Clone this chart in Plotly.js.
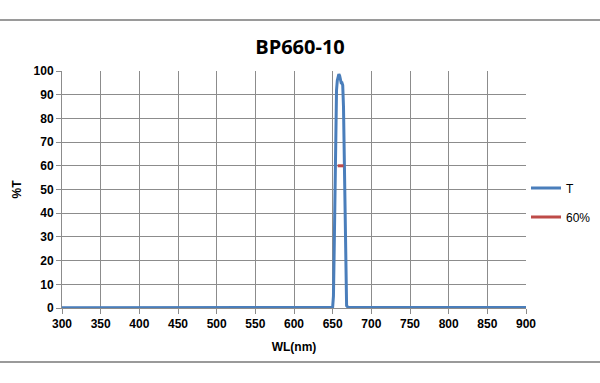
<!DOCTYPE html>
<html>
<head>
<meta charset="utf-8">
<script src="https://cdn.plot.ly/plotly-3.0.1.min.js"></script>
<style>html,body{margin:0;padding:0;background:#fff}#chart{width:600px;height:383px}</style>
</head>
<body>
<div id="chart"></div>
<script>
// Transmission curve T (%)
const wl = [300, 350, 400, 450, 500, 550, 600, 640, 648, 650, 651, 652, 653, 654, 655, 656, 657, 658, 659, 660, 661, 662, 663, 664, 665, 666, 667, 668, 670, 700, 750, 790, 800, 820, 850, 870, 900];
const T  = [0.1, 0.1, 0.1, 0.1, 0.1, 0.1, 0.1, 0.1, 0.2, 0.5, 5, 25, 55, 80, 92, 96, 98.5, 98.7, 98, 96, 95, 95, 94, 85, 60, 30, 8, 1, 0.2, 0.2, 0.2, 0.2, 0.5, 0.5, 0.4, 0.2, 0.2];
// 60% marker
const wl60 = [656.5, 664];
const v60 = [60, 60];
const xTicks = [300, 350, 400, 450, 500, 550, 600, 650, 700, 750, 800, 850, 900];
const yTicks = [0, 10, 20, 30, 40, 50, 60, 70, 80, 90, 100];

const tickFont = {family: 'Liberation Sans, Arial, sans-serif', size: 12, color: '#000', weight: 'bold'};

const data = [
  {x: wl, y: T, type: 'scatter', mode: 'lines', name: 'T',
   line: {color: '#4A7EBB', width: 3}, legend: 'legend'},
  {x: wl60, y: v60, type: 'scatter', mode: 'lines', name: '60%',
   line: {color: '#BE4B48', width: 3}, legend: 'legend2'}
];

const layout = {
  width: 600, height: 383,
  margin: {l: 62, r: 74, t: 71, b: 75, autoexpand: false},
  paper_bgcolor: '#fff', plot_bgcolor: '#fff',
  title: {text: 'BP660-10', x: 0.5, xanchor: 'center', y: 0.876, yanchor: 'middle',
          font: {family: 'Open Sans, Liberation Sans, sans-serif', size: 20, color: '#000', weight: 'bold'}},
  xaxis: {range: [300, 900], tickvals: xTicks, ticktext: xTicks.map(String),
          showgrid: true, gridcolor: '#8c8c8c', gridwidth: 1,
          showline: true, linecolor: '#8c8c8c', linewidth: 1,
          ticks: 'outside', ticklen: 5, tickcolor: '#8c8c8c',
          tickfont: tickFont, zeroline: false, automargin: false,
          title: {text: 'WL(nm)', standoff: 12, font: {family: 'Liberation Sans, Arial, sans-serif', size: 12, color: '#000', weight: 'bold'}}},
  yaxis: {range: [0, 100], tickvals: yTicks, ticktext: yTicks.map(String),
          showgrid: true, gridcolor: '#8c8c8c', gridwidth: 1,
          showline: true, linecolor: '#8c8c8c', linewidth: 1,
          ticks: 'outside', ticklen: 5, tickcolor: '#8c8c8c',
          tickfont: tickFont, zeroline: false, automargin: false,
          title: {text: '%T', standoff: 9, font: {family: 'Liberation Sans, Arial, sans-serif', size: 12, color: '#000', weight: 'bold'}}},
  showlegend: true,
  legend: {x: 1.0, y: 0.506, xanchor: 'left', yanchor: 'middle', bgcolor: 'rgba(0,0,0,0)',
           font: {family: 'Liberation Sans, Arial, sans-serif', size: 12, color: '#000'}},
  legend2: {x: 1.0, y: 0.384, xanchor: 'left', yanchor: 'middle', bgcolor: 'rgba(0,0,0,0)',
           font: {family: 'Liberation Sans, Arial, sans-serif', size: 12, color: '#000'}},
  shapes: [
    {type: 'line', xref: 'paper', yref: 'paper', x0: -0.14, x1: 1.17, y0: 1.215, y1: 1.215,
     line: {color: '#9a9a9a', width: 2}},
    {type: 'line', xref: 'paper', yref: 'paper', x0: -0.14, x1: 1.17, y0: -0.228, y1: -0.228,
     line: {color: '#9a9a9a', width: 2}}
  ]
};

Plotly.newPlot('chart', data, layout, {displayModeBar: false, staticPlot: true});
</script>
</body>
</html>
